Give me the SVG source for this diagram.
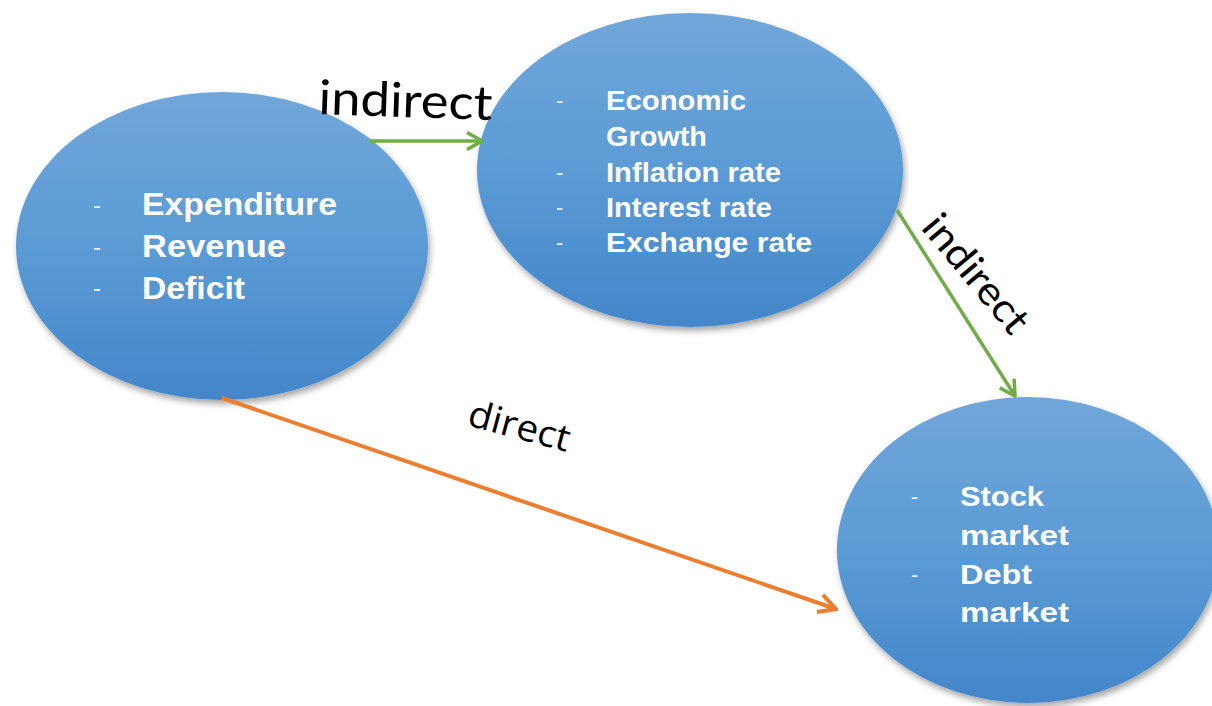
<svg xmlns="http://www.w3.org/2000/svg" width="1212" height="706" viewBox="0 0 1212 706">
<style>
.node{fill:url(#blue);filter:url(#shadow)}
.t{font-family:"Liberation Sans",Arial,sans-serif;font-weight:bold;fill:#ffffff}
.d{font-family:"Liberation Sans",Arial,sans-serif;fill:#e6eef8}
.lbl{font-family:"Lato","DejaVu Sans","Liberation Sans",sans-serif;font-weight:400;fill:#000000}
.lbl2{font-family:"Open Sans","Liberation Sans",sans-serif;fill:#000000}
.g{stroke:#70ad47;stroke-width:3.5;fill:none}
.o{stroke:#ed7d31;stroke-width:4;fill:none}
</style>
<defs>
<linearGradient id="blue" x1="0" y1="0" x2="0" y2="1">
<stop offset="0" stop-color="#71a6da"/>
<stop offset="0.5" stop-color="#5b9bd5"/>
<stop offset="1" stop-color="#4386c9"/>
</linearGradient>
<filter id="shadow" x="-10%" y="-10%" width="125%" height="130%">
<feDropShadow dx="2" dy="4" stdDeviation="3" flood-color="#000" flood-opacity="0.35"/>
</filter>
<marker id="ag" viewBox="0 0 20 20" refX="18" refY="10" markerWidth="20" markerHeight="20" markerUnits="userSpaceOnUse" orient="auto">
<path d="M3,1.5 L18,10 L3,18.5" fill="none" stroke="#70ad47" stroke-width="3.5" stroke-linejoin="miter"/>
</marker>
<marker id="ao" viewBox="0 0 22 22" refX="20" refY="11" markerWidth="22" markerHeight="22" markerUnits="userSpaceOnUse" orient="auto">
<path d="M3,2 L20,11 L3,20" fill="none" stroke="#ed7d31" stroke-width="4" stroke-linejoin="miter"/>
</marker>
</defs>
<rect width="1212" height="706" fill="#ffffff"/>

<g id="node-fiscal">
<ellipse class="node" cx="222" cy="246" rx="206" ry="154"/>
<text class="d" x="93" y="213" font-size="24">-</text>
<text class="d" x="93" y="255" font-size="24">-</text>
<text class="d" x="93" y="296" font-size="24">-</text>
<text class="t" x="142" y="215" font-size="31" textLength="195" lengthAdjust="spacingAndGlyphs">Expenditure</text>
<text class="t" x="142" y="257" font-size="31" textLength="144" lengthAdjust="spacingAndGlyphs">Revenue</text>
<text class="t" x="142" y="299" font-size="31" textLength="103" lengthAdjust="spacingAndGlyphs">Deficit</text>
</g>

<g id="node-macro">
<ellipse class="node" cx="690" cy="170" rx="213" ry="157"/>
<text class="d" x="556" y="108" font-size="22">-</text>
<text class="d" x="556" y="180" font-size="22">-</text>
<text class="d" x="556" y="215" font-size="22">-</text>
<text class="d" x="556" y="250" font-size="22">-</text>
<text class="t" x="606" y="110" font-size="27" textLength="140" lengthAdjust="spacingAndGlyphs">Economic</text>
<text class="t" x="606" y="146" font-size="27" textLength="101" lengthAdjust="spacingAndGlyphs">Growth</text>
<text class="t" x="606" y="182" font-size="27" textLength="175" lengthAdjust="spacingAndGlyphs">Inflation rate</text>
<text class="t" x="606" y="217" font-size="27" textLength="166" lengthAdjust="spacingAndGlyphs">Interest rate</text>
<text class="t" x="606" y="252" font-size="27" textLength="206" lengthAdjust="spacingAndGlyphs">Exchange rate</text>
</g>

<g id="node-markets">
<ellipse class="node" cx="1028" cy="550" rx="191" ry="153"/>
<text class="d" x="911" y="504" font-size="22">-</text>
<text class="d" x="911" y="582" font-size="22">-</text>
<text class="t" x="960" y="506" font-size="28" textLength="84" lengthAdjust="spacingAndGlyphs">Stock</text>
<text class="t" x="960" y="545" font-size="28" textLength="109" lengthAdjust="spacingAndGlyphs">market</text>
<text class="t" x="960" y="584" font-size="28" textLength="72" lengthAdjust="spacingAndGlyphs">Debt</text>
<text class="t" x="960" y="622" font-size="28" textLength="109" lengthAdjust="spacingAndGlyphs">market</text>
</g>

<g id="connectors">
<line class="g" x1="370" y1="141" x2="482" y2="141" marker-end="url(#ag)"/>
<line class="g" x1="897" y1="210" x2="1015" y2="396" marker-end="url(#ag)"/>
<line class="o" x1="222" y1="398" x2="836" y2="609" marker-end="url(#ao)"/>
<text class="lbl" x="318" y="114" font-size="48" textLength="174" lengthAdjust="spacingAndGlyphs" transform="rotate(2 318 114)">indirect</text>
<text class="lbl" x="0" y="0" font-size="40" textLength="142" lengthAdjust="spacingAndGlyphs" transform="translate(920 228) rotate(50)">indirect</text>
<text class="lbl2" x="0" y="0" font-size="37" textLength="104" lengthAdjust="spacingAndGlyphs" transform="translate(466 425) rotate(15)">direct</text>
</g>
</svg>
